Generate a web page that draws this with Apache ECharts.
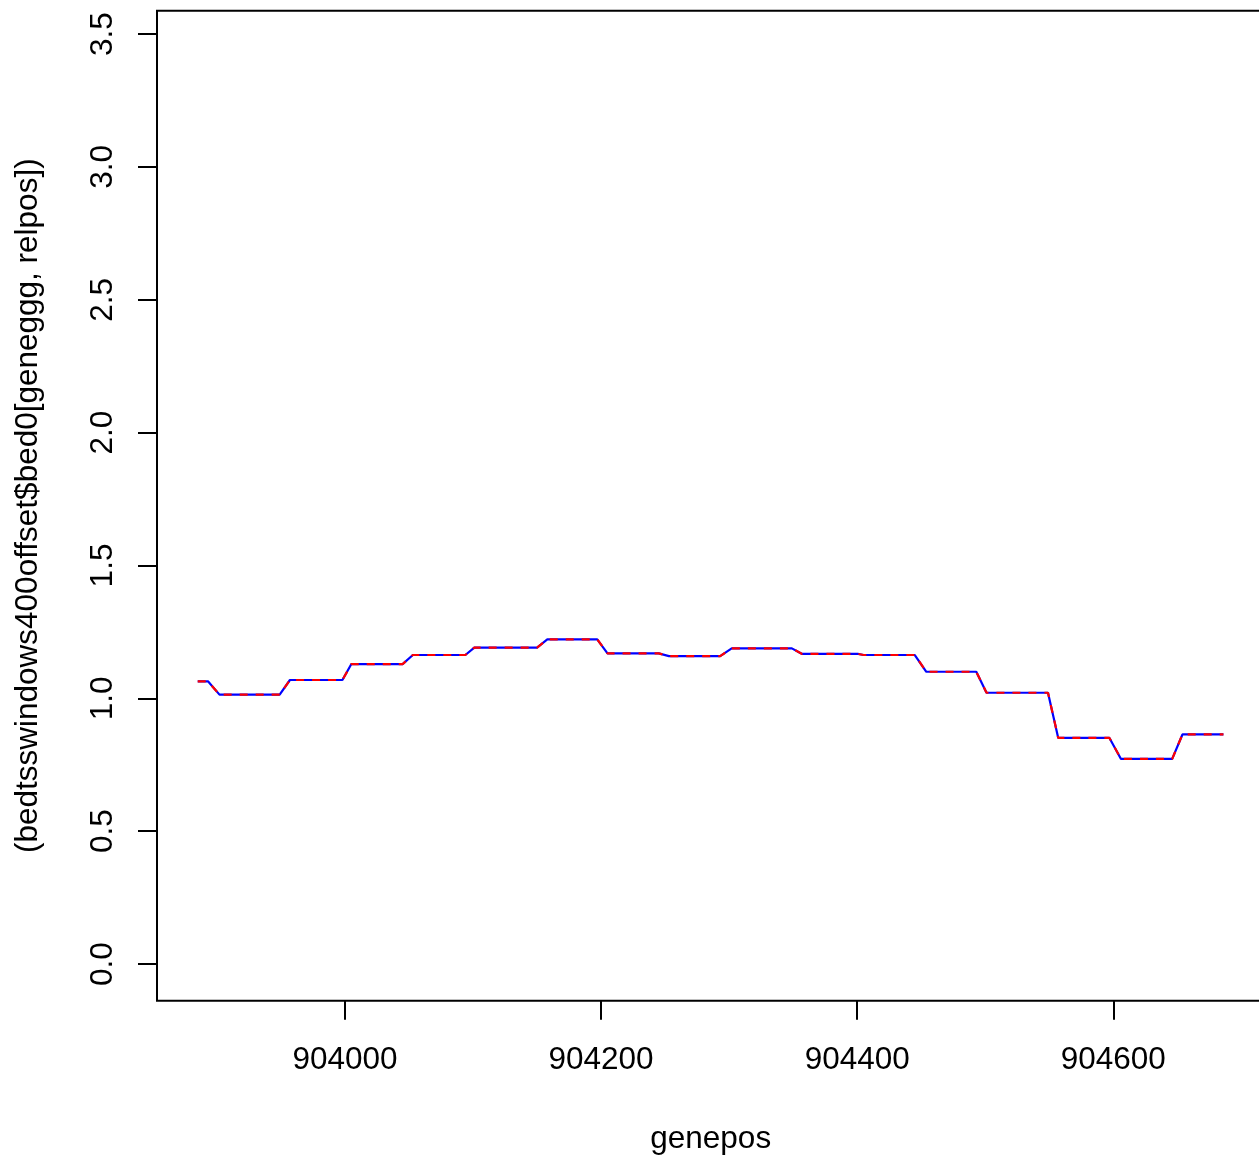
<!DOCTYPE html>
<html>
<head>
<meta charset="utf-8">
<script src="https://cdn.jsdelivr.net/npm/echarts@6/dist/echarts.min.js"></script>
<style>
html,body{margin:0;padding:0;background:#fff;}
#chart{width:1259px;height:1155px;}
</style>
</head>
<body>
<div id="chart"></div>
<script>
const genepos = [903885, 903893, 903902, 903949, 903957, 903998, 904005, 904045, 904053, 904094,
  904101, 904150, 904158, 904197, 904205, 904245, 904253, 904293, 904302, 904349,
  904357, 904401, 904405, 904445, 904454, 904493, 904501, 904549, 904557, 904597,
  904606, 904646, 904654, 904686];
const values = [1.064, 1.064, 1.014, 1.014, 1.069, 1.069, 1.129, 1.129, 1.163, 1.163,
  1.191, 1.191, 1.222, 1.222, 1.169, 1.169, 1.159, 1.159, 1.188, 1.188,
  1.167, 1.167, 1.163, 1.163, 1.100, 1.100, 1.021, 1.021, 0.851, 0.851,
  0.772, 0.772, 0.864, 0.864];
const xTicks = [904000, 904200, 904400, 904600];
const yTicks = [0, 0.5, 1.0, 1.5, 2.0, 2.5, 3.0, 3.5];
const xTitle = 'genepos';
const yTitle = '(bedtsswindows400offset$bed0[geneggg, relpos])';

const pairs = genepos.map((x, i) => [x, values[i]]);
const FONT = 'Liberation Sans, Arial, sans-serif';
const FS = 31.5;

const chart = echarts.init(document.getElementById('chart'), null, {renderer: 'canvas'});
chart.setOption({
  animation: false,
  backgroundColor: '#fff',
  grid: {
    left: 157, top: 10.7, width: 1107.4, height: 990,
    outerBoundsMode: 'none', containLabel: false,
    show: true, borderColor: '#000', borderWidth: 2, backgroundColor: 'transparent'
  },
  xAxis: {
    type: 'value', min: 903853.2, max: 904718,
    name: xTitle, nameLocation: 'middle', nameGap: 123,
    nameTextStyle: {color: '#000', fontSize: FS, fontFamily: FONT},
    axisLine: {show: false, onZero: false},
    splitLine: {show: false},
    axisTick: {show: true, length: 19, lineStyle: {color: '#000', width: 2}, customValues: xTicks},
    axisLabel: {color: '#000', fontSize: FS, fontFamily: FONT, margin: 44, customValues: xTicks,
      formatter: v => String(Math.round(v))}
  },
  yAxis: {
    type: 'value', min: -0.138, max: 3.588,
    name: yTitle, nameLocation: 'middle', nameGap: 113, nameRotate: 90,
    nameTextStyle: {color: '#000', fontSize: FS, fontFamily: FONT},
    axisLine: {show: false, onZero: false},
    splitLine: {show: false},
    axisTick: {show: true, length: 19, lineStyle: {color: '#000', width: 2}, customValues: yTicks},
    axisLabel: {color: '#000', fontSize: FS, fontFamily: FONT, margin: 38, rotate: 90, customValues: yTicks,
      formatter: v => Number(v).toFixed(1)}
  },
  series: [
    {type: 'line', data: pairs, symbol: 'none', silent: true,
      lineStyle: {color: '#0000FF', width: 2.2, type: 'solid'}},
    {type: 'line', data: pairs, symbol: 'none', silent: true,
      lineStyle: {color: '#FF0000', width: 2.2, type: [8, 8]}}
  ]
});
</script>
</body>
</html>
